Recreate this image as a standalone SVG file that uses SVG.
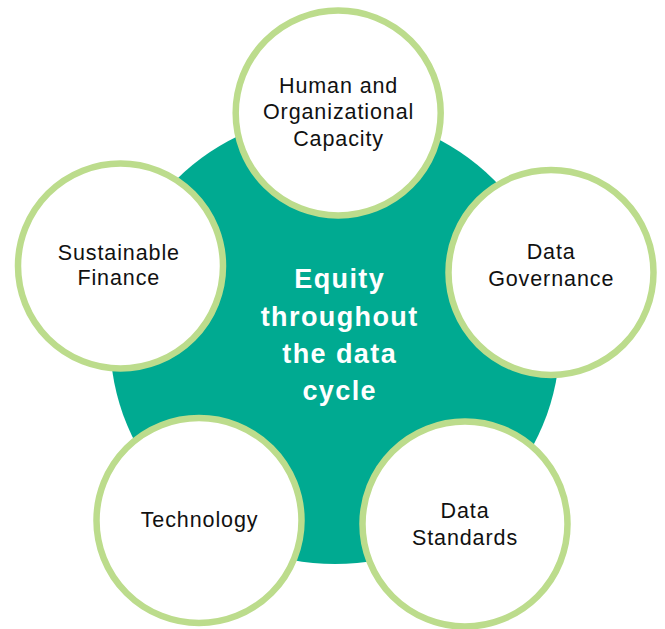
<svg xmlns="http://www.w3.org/2000/svg" width="665" height="629" viewBox="0 0 665 629">
<style>
.ring{fill:#ffffff;stroke:#bcdc8c;stroke-width:6.5}
.lbl{font-family:"Liberation Sans",Arial,Helvetica,sans-serif;font-size:21.5px;fill:#111111;text-anchor:middle;letter-spacing:0.9px}
.ctr{font-family:"Liberation Sans",Arial,Helvetica,sans-serif;font-size:27px;font-weight:bold;fill:#ffffff;text-anchor:middle;letter-spacing:1.4px}
</style>
<rect width="665" height="629" fill="#ffffff"/>
<g id="center">
<circle cx="335" cy="339" r="225" fill="#00aa91"/>
<text class="ctr" x="339.7" y="288">Equity</text>
<text class="ctr" x="339.7" y="326">throughout</text>
<text class="ctr" x="339.7" y="363">the data</text>
<text class="ctr" x="339.7" y="400">cycle</text>
</g>
<g id="connectors"></g>
<g id="human">
<circle class="ring" cx="338.2" cy="113" r="102.5"/>
<text class="lbl" x="338.6" y="92.7">Human and</text>
<text class="lbl" x="338.6" y="119.3">Organizational</text>
<text class="lbl" x="338.6" y="146">Capacity</text>
</g>
<g id="sustainable">
<circle class="ring" cx="120.5" cy="266" r="102.5"/>
<text class="lbl" x="118.8" y="260">Sustainable</text>
<text class="lbl" x="118.8" y="284.5">Finance</text>
</g>
<g id="governance">
<circle class="ring" cx="551" cy="272.4" r="102.5"/>
<text class="lbl" x="551.2" y="259.3">Data</text>
<text class="lbl" x="551.2" y="285.7">Governance</text>
</g>
<g id="technology">
<circle class="ring" cx="199" cy="520.5" r="102.5"/>
<text class="lbl" x="199.6" y="526.7">Technology</text>
</g>
<g id="standards">
<circle class="ring" cx="465" cy="524" r="102.5"/>
<text class="lbl" x="465" y="517.8">Data</text>
<text class="lbl" x="465" y="544.7">Standards</text>
</g>
</svg>
